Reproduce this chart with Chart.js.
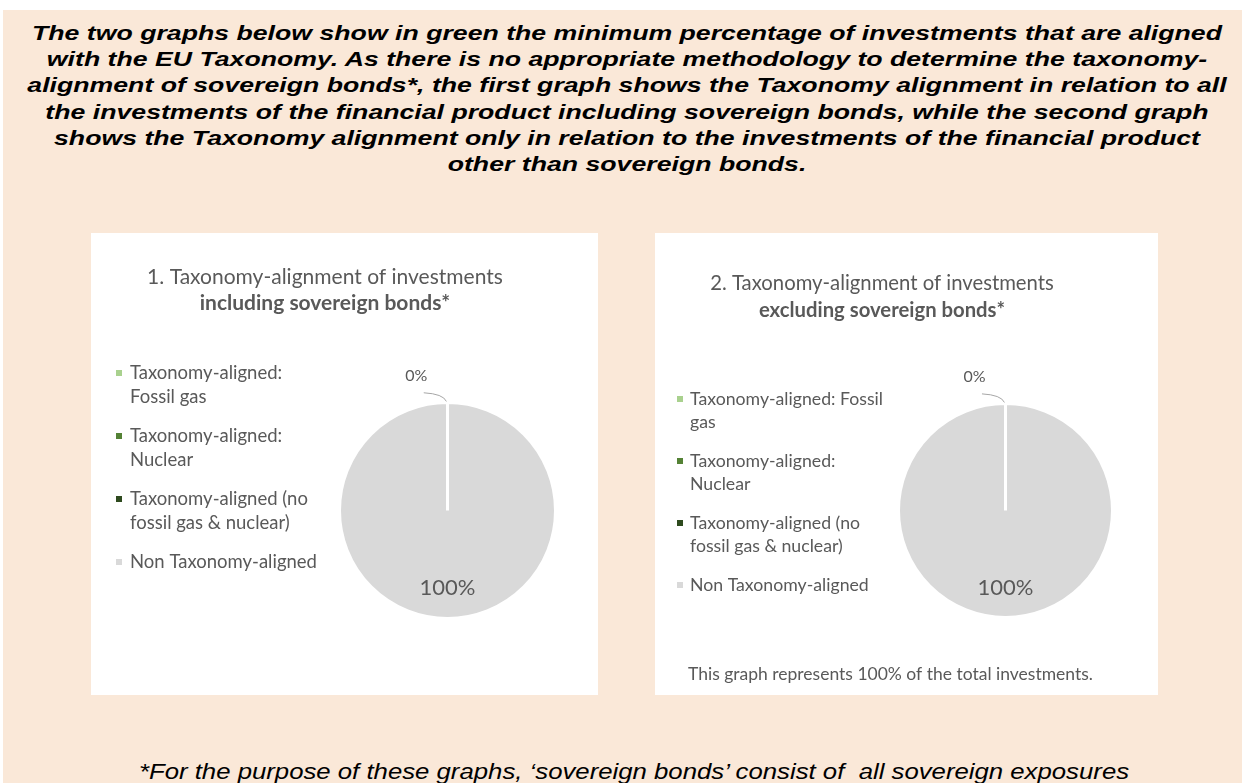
<!DOCTYPE html>
<html>
<head>
<meta charset="utf-8">
<script src="https://cdn.jsdelivr.net/npm/chart.js@4.4.1/dist/chart.umd.min.js"></script>
<style>
  html, body { margin: 0; padding: 0; background: #fff; }
  body { width: 1242px; height: 783px; position: relative; overflow: hidden; font-family: "Liberation Sans", Arial, sans-serif; }
  #frame { position: absolute; left: 3px; top: 10px; right: 0; bottom: 0; background: #FAE8D8; }
  #intro { position: absolute; left: 6px; top: 20px; width: 1242px; text-align: center; font-weight: bold; font-style: italic; font-size: 21px; line-height: 26.2px; color: #000; transform: scaleX(1.27); transform-origin: 621px 0; }
  .panel { position: absolute; top: 233px; height: 462px; background: #fff; }
  #panel1 { left: 91px; width: 507px; }
  #panel2 { left: 655px; width: 503px; }
  .panel canvas { filter: blur(0.4px); }
  #footnote { position: absolute; left: 13px; width: 1242px; top: 759px; text-align: center; font-style: italic; font-size: 22px; line-height: 26px; color: #000; transform: scaleX(1.17); transform-origin: 621px 0; }
</style>
</head>
<body>
<div id="frame"></div>
<div id="intro">
  The two graphs below show in green the minimum percentage of investments that are aligned<br>
  with the EU Taxonomy. As there is no appropriate methodology to determine the taxonomy-<br>
  alignment of sovereign bonds*, the first graph shows the Taxonomy alignment in relation to all<br>
  the investments of the financial product including sovereign bonds, while the second graph<br>
  shows the Taxonomy alignment only in relation to the investments of the financial product<br>
  other than sovereign bonds.
</div>
<div class="panel" id="panel1"><canvas id="chartIncl" width="507" height="462"></canvas></div>
<div class="panel" id="panel2"><canvas id="chartExcl" width="503" height="462"></canvas></div>
<div id="footnote">*For the purpose of these graphs, ‘sovereign bonds’ consist of&nbsp; all sovereign exposures</div>

<script>
// categories (legend lines, as wrapped in each panel)
var labelsIncl = [
  ['Taxonomy-aligned:', 'Fossil gas'],
  ['Taxonomy-aligned:', 'Nuclear'],
  ['Taxonomy-aligned (no', 'fossil gas & nuclear)'],
  ['Non Taxonomy-aligned']
];
var labelsExcl = [
  ['Taxonomy-aligned: Fossil', 'gas'],
  ['Taxonomy-aligned:', 'Nuclear'],
  ['Taxonomy-aligned (no', 'fossil gas & nuclear)'],
  ['Non Taxonomy-aligned']
];

// shares in percent
var valuesIncl = [0, 0, 0, 100];
var valuesExcl = [0, 0, 0, 100];

var sliceColors = ['#A9D18E', '#548235', '#2E4A1E', '#D9D9D9'];

var textGrey = '#595959';
var calibriLike = 'Lato, "Open Sans", sans-serif';

// puts the pie where it sits in the panel, independent of the title boxes
var pieFrame = {
  id: 'pieFrame',
  afterLayout: function(chart, args, opts) {
    var a = chart.chartArea;
    a.left = opts.left;
    a.top = opts.top;
    a.right = opts.left + opts.size;
    a.bottom = opts.top + opts.size;
    a.width = opts.size;
    a.height = opts.size;
  }
};

// legend on the left with wrapped lines, plus an optional note underneath
var sideLegend = {
  id: 'sideLegend',
  afterDraw: function(chart, args, opts) {
    var ctx = chart.ctx;
    var colors = chart.data.datasets[0].backgroundColor;
    var y = opts.top;
    ctx.save();
    ctx.font = opts.fontSize + 'px ' + calibriLike;
    ctx.textBaseline = 'middle';
    ctx.textAlign = 'left';
    chart.data.labels.forEach(function(lines, i) {
      ctx.fillStyle = colors[i];
      ctx.fillRect(opts.markerX - 3, y - 3, 6, 6);
      ctx.fillStyle = textGrey;
      lines.forEach(function(t, j) {
        ctx.fillText(t, opts.textX, y + j * opts.lineHeight);
      });
      y += lines.length * opts.lineHeight + opts.gap;
    });
    if (opts.note) {
      ctx.font = opts.noteSize + 'px ' + calibriLike;
      ctx.fillText(opts.note, opts.noteX, opts.noteY);
    }
    ctx.restore();
  }
};

// percentage labels: empty slices get a callout above the pie
var sliceLabels = {
  id: 'sliceLabels',
  afterDatasetsDraw: function(chart, args, opts) {
    var ctx = chart.ctx;
    var values = chart.data.datasets[0].data;
    var meta = chart.getDatasetMeta(0);
    var zeroDone = false;
    ctx.save();
    ctx.textAlign = 'center';
    ctx.textBaseline = 'middle';
    ctx.fillStyle = textGrey;
    meta.data.forEach(function(arc, i) {
      var p = arc.getProps(['x', 'y', 'startAngle', 'endAngle', 'outerRadius'], true);
      var r = p.outerRadius;
      var text = values[i] + '%';
      if (values[i] === 0) {
        if (zeroDone) return;
        zeroDone = true;
        ctx.strokeStyle = '#A6A6A6';
        ctx.lineWidth = 1;
        ctx.beginPath();
        ctx.moveTo(p.x - 0.22 * r, p.y - 1.09 * r);
        ctx.quadraticCurveTo(p.x - 0.04 * r, p.y - 1.08 * r, p.x - 0.01 * r, p.y - 1.01 * r);
        ctx.stroke();
        ctx.font = opts.smallSize + 'px ' + calibriLike;
        ctx.fillText(text, p.x - 0.29 * r, p.y - 1.25 * r);
      } else {
        var mid = (p.startAngle + p.endAngle) / 2;
        ctx.font = opts.bigSize + 'px ' + calibriLike;
        ctx.fillText(text, p.x + Math.cos(mid) * r * 0.72, p.y + Math.sin(mid) * r * 0.72);
      }
    });
    ctx.restore();
  }
};

function makePie(canvasId, labels, values, titleText, subtitleText, o) {
  return new Chart(document.getElementById(canvasId), {
    type: 'pie',
    data: {
      labels: labels,
      datasets: [{
        data: values,
        backgroundColor: sliceColors,
        borderColor: '#FFFFFF',
        borderWidth: 3
      }]
    },
    options: {
      responsive: false,
      animation: false,
      layout: { padding: { right: o.titleShift } },
      plugins: {
        legend: { display: false },
        tooltip: { enabled: false },
        title: {
          display: true,
          text: titleText,
          color: textGrey,
          font: { family: calibriLike, size: o.titleSize, weight: 'normal' },
          padding: { top: o.titleTop, bottom: o.titleGap }
        },
        subtitle: {
          display: true,
          text: subtitleText,
          color: textGrey,
          font: { family: calibriLike, size: o.titleSize, weight: 'bold' },
          padding: { top: 0, bottom: 10 }
        },
        pieFrame: o.frame,
        sideLegend: o.legend,
        sliceLabels: { smallSize: 16, bigSize: 22 }
      }
    },
    plugins: [pieFrame, sideLegend, sliceLabels]
  });
}

makePie('chartIncl', labelsIncl, valuesIncl,
  '1. Taxonomy-alignment of investments', 'including sovereign bonds*', {
    titleShift: 39,
    titleTop: 32,
    titleGap: 0,
    titleSize: 21,
    frame: { left: 247, top: 168, size: 219 },
    legend: { markerX: 28, textX: 39, top: 140, lineHeight: 24, gap: 15, fontSize: 18.5 }
  });

makePie('chartExcl', labelsExcl, valuesExcl,
  '2. Taxonomy-alignment of investments', 'excluding sovereign bonds*', {
    titleShift: 49,
    titleTop: 38,
    titleGap: 3,
    titleSize: 20.3,
    frame: { left: 242, top: 169, size: 217 },
    legend: { markerX: 25, textX: 35, top: 166, lineHeight: 23, gap: 16, fontSize: 17.7,
      note: 'This graph represents 100% of the total investments.', noteX: 33, noteY: 441, noteSize: 17.5 }
  });
</script>
</body>
</html>
